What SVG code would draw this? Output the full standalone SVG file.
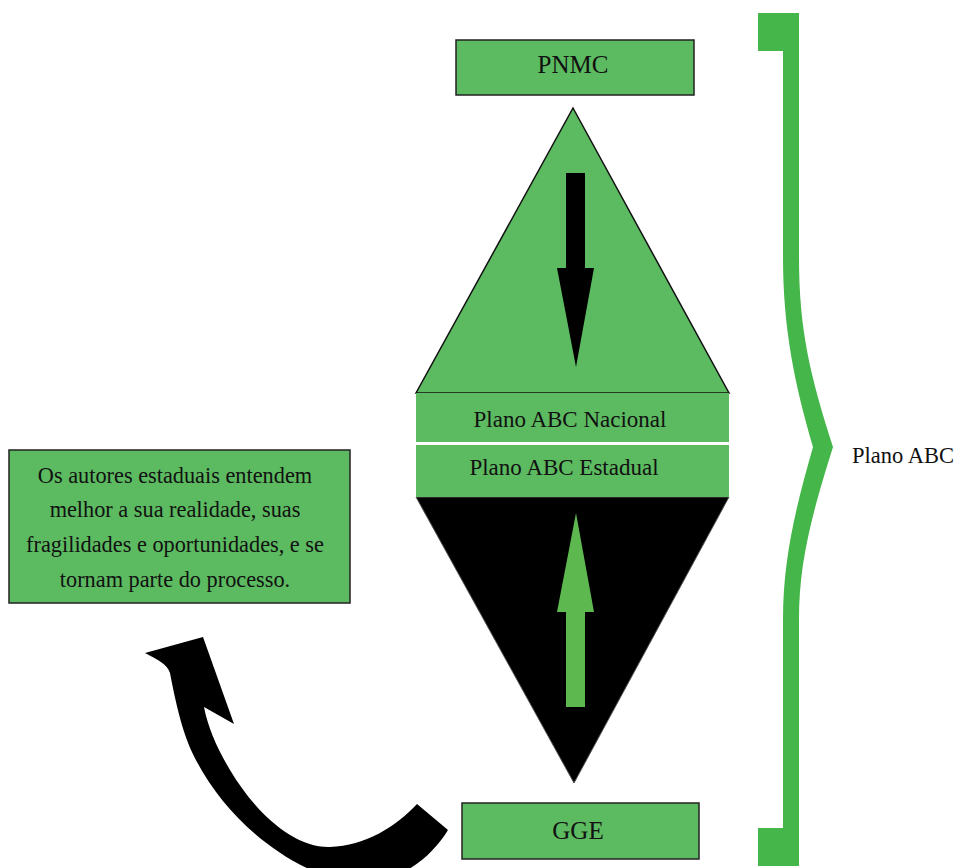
<svg xmlns="http://www.w3.org/2000/svg" width="960" height="868" viewBox="0 0 960 868">
<style>
.box{fill:#5cba60;stroke:#222;stroke-width:1.5}
.t{font-family:"Liberation Serif","DejaVu Serif","Times New Roman",serif;fill:#111;text-anchor:middle}
</style>
<rect width="960" height="868" fill="#fff"/>
<g id="diamond">
<polygon points="573,108 729,393 416,393" fill="#5cba60" stroke="#111" stroke-width="1.5"/>
<polygon points="416,497 729,497 574,783" fill="#000" stroke="#555" stroke-width="1"/>
</g>
<g id="plano-nacional">
<rect x="416" y="393" width="313" height="49" fill="#5cba60"/>
<text class="t" x="570" y="427" font-size="23" font-family="Liberation Serif, serif">Plano ABC Nacional</text>
</g>
<g id="plano-estadual">
<rect x="416" y="445" width="313" height="52" fill="#5cba60"/>
<text class="t" x="564" y="475" font-size="23" font-family="Liberation Serif, serif">Plano ABC Estadual</text>
</g>
<g id="pnmc">
<rect class="box" x="456" y="40" width="238" height="55"/>
<text class="t" x="573" y="73" font-size="25" font-family="Liberation Serif, serif">PNMC</text>
</g>
<g id="gge">
<rect class="box" x="462" y="803" width="237" height="56"/>
<text class="t" x="578" y="839" font-size="25" font-family="Liberation Serif, serif">GGE</text>
</g>
<g id="nota">
<rect class="box" x="9" y="450" width="341" height="153"/>
<text class="t" font-size="22.3" font-family="Liberation Serif, serif"><tspan x="175" y="483">Os autores estaduais entendem</tspan><tspan x="175" y="517">melhor a sua realidade, suas</tspan><tspan x="175" y="552">fragilidades e oportunidades, e se</tspan><tspan x="175" y="587">tornam parte do processo.</tspan></text>
</g>
<g id="plano-abc">
<path d="M758,13 L799,13 L799,257 C799,330 810,375 833,447 C810,520 799,565 799,620 L799,866 L758,866 L758,828 L783,828 L783,620 C783,560 795,510 813,447 C795,385 783,330 783,257 L783,51 L758,51 Z" fill="#45b649"/>
<text class="t" x="903" y="463" font-size="22.5" font-family="Liberation Serif, serif">Plano ABC</text>
</g>
<g id="connectors">
<polygon points="566,173 585,173 585,268 594,268 576,367 557,268 566,268" fill="#000"/>
<polygon points="576,513 594,612 585,612 585,707 566,707 566,612 557,612" fill="#5db94f"/>
<path d="M417,804 C397,826 365,846 330,847 C293,848 255,812 230,770 C218,750 208,728 204,707 L234,724 L203,637 L145,653 C158,660 167,664 170,673 C178,715 185,740 197,762 C225,815 280,865 340,880 C390,892 430,860 448,830 Z" fill="#000"/>
</g>
</svg>
